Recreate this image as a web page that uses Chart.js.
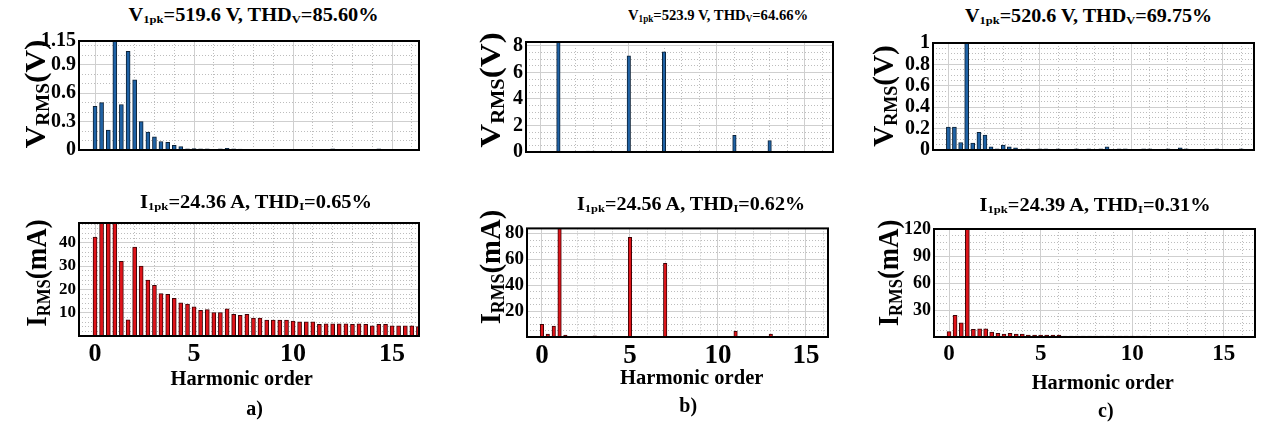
<!DOCTYPE html>
<html><head><meta charset="utf-8">
<script src="https://cdn.jsdelivr.net/npm/chart.js@4.4.1/dist/chart.umd.min.js"></script>
<style>
html,body{margin:0;padding:0;background:#fff;}
body{width:1264px;height:424px;position:relative;overflow:hidden;font-family:"Liberation Serif",serif;}
canvas{position:absolute;}
.t{position:absolute;white-space:nowrap;font-weight:bold;color:#000;line-height:1;transform-origin:50% 50%;z-index:5;}
.t sub{font-size:0.62em;vertical-align:-0.22em;line-height:0;}
</style></head><body>
<script>
// ---------------- data ----------------
const xTickValues = [0, 5, 10, 15];
const harmonicOrders = [0,0.33,0.67,1,1.33,1.67,2,2.33,2.67,3,3.33,3.67,4,4.33,4.67,5,5.33,5.67,6,6.33,6.67,7,7.33,7.67,8,8.33,8.67,9,9.33,9.67,10,10.33,10.67,11,11.33,11.67,12,12.33,12.67,13,13.33,13.67,14,14.33,14.67,15,15.33,15.67,16,16.33];

// panel a) voltage (V rms) and current (mA rms) per harmonic order
const vRmsA = [0.46,0.50,0.21,367.4,0.48,1.04,0.74,0.30,0.19,0.14,0.09,0.08,0.05,0.035,0.012,0.015,0.012,0.012,null,0.012,0.018,0.012,0.01,null,null,null,null,null,null,null,null,null,null,null,null,null,0.012,null,null,null,null,null,null,0.012,null,null,null,null,null,null];
const iRmsA = [42.5,52,50,17225,32,6.9,38.2,30,24,21.8,18.2,17.9,16.2,14.2,13.7,12.5,11,11.3,10.1,10.1,11.7,9.3,8.9,9.3,7.7,7.7,6.8,6.8,6.8,6.8,6.4,6.1,6.1,6.1,5.0,5.2,5.2,5.2,5.2,5.0,5.2,5.0,4.4,5.0,5.0,4.4,4.4,4.4,4.4,4.0];

// panel b)
const ordersVB = [0.67,1,1.33,2.67,3,5,7,11,13];
const vRmsB = [0.05,370.5,0.05,0.06,0.06,7.25,7.55,1.25,0.87];
const ordersIB = [0,0.33,0.67,1,1.33,2,2.67,3,3.33,5,7,11,13];
const iRmsB = [9.8,2.3,8.5,17367,1.5,0.5,0.6,0.9,0.5,77,57,4.4,2.3];

// panel c)
const ordersVC = [0,0.33,0.67,1,1.33,1.67,2,2.33,2.67,3,3.33,3.67,4.33,5,5.33,6,7,7.67,8.33,8.67,9.33,9.67,10.67,11,12,12.67,13,14.67,16];
const vRmsC = [0.215,0.215,0.07,368.1,0.065,0.165,0.14,0.03,0.012,0.045,0.03,0.02,0.01,0.01,0.01,0.01,0.01,0.01,0.01,0.03,0.01,0.01,0.01,0.01,0.01,0.02,0.01,0.01,0.01];
const ordersIC = [0,0.33,0.67,1,1.33,1.67,2,2.33,2.67,3,3.33,3.67,4,4.33,4.67,5,5.33,5.67,6,6.33,6.67,7,7.33,7.67,8,8.33,8.67,9,9.33,9.67,10,10.33,10.67];
const iRmsC = [5.9,24,15.7,17247,8.4,9.2,9.2,5.5,4.0,3.3,4.0,3.3,3.3,2.2,2.2,2.2,2.2,2.2,2.2,1.1,1.1,1.1,1.1,1.1,1.1,1.1,1.1,1.1,1.1,1.1,1.1,1.1,1.1];

// y tick labels
const yTicksAV = [0,0.3,0.6,0.9,1.15];
const yTicksAI = [10,20,30,40];
const yTicksBV = [0,2,4,6,8];
const yTicksBI = [20,40,60,80];
const yTicksCV = [0,0.2,0.4,0.6,0.8,1];
const yTicksCI = [30,60,90,120];

// texts
const titlesV = ['V<sub>1pk</sub>=519.6 V, THD<sub>V</sub>=85.60%','V<sub>1pk</sub>=523.9 V, THD<sub>V</sub>=64.66%','V<sub>1pk</sub>=520.6 V, THD<sub>V</sub>=69.75%'];
const titlesI = ['I<sub>1pk</sub>=24.36 A, THD<sub>I</sub>=0.65%','I<sub>1pk</sub>=24.56 A, THD<sub>I</sub>=0.62%','I<sub>1pk</sub>=24.39 A, THD<sub>I</sub>=0.31%'];
const yTitleV = 'V<sub>RMS</sub>(V)';
const yTitleI = 'I<sub>RMS</sub>(mA)';
const xTitle = 'Harmonic order';
const panelLabels = ['a)','b)','c)'];

// ---------------- styling / layout ----------------
const FONT = 'Liberation Serif';
const BLUE = {fill:'#1f62a5', edge:'#0c2136'};
const RED = {fill:'#e0141a', edge:'#3d0406'};
const YW = 60, PT = 14, PR = 8;

function pts(xs, ys){ const out=[]; xs.forEach((x,i)=>{ if(ys[i]!==null) out.push({x:x,y:ys[i]}); }); return out; }

const framePlugin = {
  id:'frame',
  afterDatasetsDraw(chart){
    const {ctx, chartArea:a} = chart;
    ctx.save(); ctx.strokeStyle='#000'; ctx.lineWidth=2;
    ctx.strokeRect(a.left, a.top, a.right-a.left, a.bottom-a.top);
    ctx.restore();
  }
};

function range(a,b,s){ const r=[]; for(let v=a; v<=b+1e-9; v+=s) r.push(+v.toFixed(4)); return r; }

function makePanel(p){
  const xh = p.bottom ? 40 : 16;
  const W = YW + (p.ca[2]-p.ca[0]) + PR;
  const H = PT + (p.ca[3]-p.ca[1]) + xh;
  const cv = document.createElement('canvas');
  cv.width = W; cv.height = H;
  cv.style.left = (p.ca[0]-YW)+'px'; cv.style.top = (p.ca[1]-PT)+'px';
  cv.style.width = W+'px'; cv.style.height = H+'px';
  document.body.appendChild(cv);
  const minorX = range(0, 16, 1).filter(v=>v%5!==0);
  const minorY = range(p.yMinor, p.yMax, p.yMinor);
  new Chart(cv.getContext('2d'), {
    type:'bar',
    data:{datasets:[{data:p.data, backgroundColor:p.color.fill, borderColor:p.color.edge, borderWidth:1, borderSkipped:'start', barThickness:p.bw, clip:0}]},
    options:{
      responsive:false, animation:false, devicePixelRatio:1,
      layout:{padding:{top:PT,right:PR,left:0,bottom:0}},
      plugins:{legend:{display:false}, tooltip:{enabled:false}},
      scales:{
        x2:{type:'linear', axis:'x', position:'bottom', min:p.xr[0], max:p.xr[1], offset:false,
            grid:{color:'#bdbdbd', lineWidth:1, drawTicks:false, offset:false}, border:{display:false, dash:[1,2]},
            ticks:{display:false}, afterBuildTicks:s=>{s.ticks=minorX.map(v=>({value:v}));}, afterFit:s=>{s.height=0;}},
        y2:{type:'linear', axis:'y', position:'left', min:0, max:p.yMax,
            grid:{color:'#bdbdbd', lineWidth:1, drawTicks:false}, border:{display:false, dash:[1,2]},
            ticks:{display:false}, afterBuildTicks:s=>{s.ticks=minorY.map(v=>({value:v}));}, afterFit:s=>{s.width=0;}},
        x:{type:'linear', min:p.xr[0], max:p.xr[1], offset:false,
           grid:{color:'#cfcfcf', lineWidth:1, drawTicks:false, offset:false}, border:{display:false},
           ticks:{display:p.bottom, color:'#000', padding:3, maxRotation:0, autoSkip:false,
                  font:{family:FONT, size:p.xFont||26, weight:'bold'}, callback:v=>String(v)},
           afterBuildTicks:s=>{s.ticks=xTickValues.map(v=>({value:v}));}, afterFit:s=>{s.height=xh;}},
        y:{type:'linear', min:0, max:p.yMax,
           grid:{color:'#cfcfcf', lineWidth:1, drawTicks:false}, border:{display:false},
           ticks:{color:'#000', padding:3, autoSkip:false, font:{family:FONT, size:p.yFont, weight:'bold'}, callback:v=>String(v)},
           afterBuildTicks:s=>{s.ticks=p.yTicks.map(v=>({value:v}));}, afterFit:s=>{s.width=YW;}}
      }
    },
    plugins:[framePlugin]
  });
}

const panels = [
  {data:pts(harmonicOrders,vRmsA), ca:[79,40,419,150], xr:[-0.81,16.36], yMax:1.15, yMinor:0.1, yTicks:yTicksAV, color:BLUE, bottom:false, yFont:20, bw:4},
  {data:pts(harmonicOrders,iRmsA), ca:[79,223,419,336], xr:[-0.81,16.36], yMax:48.5, yMinor:2, yTicks:yTicksAI, color:RED, bottom:true, yFont:17, xFont:26, bw:4},
  {data:pts(ordersVB,vRmsB), ca:[526,41,833,152], xr:[-0.84,16.6], yMax:8.3, yMinor:0.5, yTicks:yTicksBV, color:BLUE, bottom:false, yFont:20, bw:3.5},
  {data:pts(ordersIB,iRmsB), ca:[527,228,828,337], xr:[-0.85,16.25], yMax:84, yMinor:5, yTicks:yTicksBI, color:RED, bottom:true, yFont:19, xFont:27, bw:3.5},
  {data:pts(ordersVC,vRmsC), ca:[933,42,1254,150], xr:[-0.84,16.7], yMax:1, yMinor:0.05, yTicks:yTicksCV, color:BLUE, bottom:false, yFont:20, bw:4},
  {data:pts(ordersIC,iRmsC), ca:[934,229,1255,337], xr:[-0.82,16.7], yMax:120, yMinor:7.5, yTicks:yTicksCI, color:RED, bottom:true, yFont:18, xFont:23, bw:4}
];
panels.forEach(makePanel);

// ---------------- HTML text ----------------
function addText(html, cx, cy, size, len, rot){
  const el = document.createElement('div');
  el.className = 't';
  el.innerHTML = html;
  el.style.fontSize = size+'px';
  el.style.height = size+'px';
  document.body.appendChild(el);
  const w = el.offsetWidth, h = el.offsetHeight;
  el.style.left = (cx - w/2)+'px';
  el.style.top = (cy - h/2)+'px';
  const s = len ? len/w : 1;
  el.style.transform = (rot ? 'rotate(-90deg) ' : '') + 'scaleX('+s+')';
}
const tV = [[253,14.5,250,18],[718,15.5,180,15],[1088,15.8,247,18]];
const tI = [[256,201.7,232,18],[691,203.5,228,18],[1094.7,205,231,18]];
const yV = [[35,93.8,109],[490,90,116],[883.3,95.8,102]];
const yI = [[36,272.5,108],[489.7,266.7,115],[887.5,273.3,107]];
const xT = [[241,378.3,142],[691.7,376.7,143],[1102.5,381.7,141.7]];
const pL = [[254.7,407.5],[688.3,405],[1106,410]];
for(let i=0;i<3;i++){
  addText(titlesV[i], tV[i][0], tV[i][1], tV[i][3], tV[i][2]);
  addText(titlesI[i], tI[i][0], tI[i][1], tI[i][3], tI[i][2]);
  addText(yTitleV, yV[i][0], yV[i][1], 30, yV[i][2], true);
  addText(yTitleI, yI[i][0], yI[i][1], 30, yI[i][2], true);
  addText(xTitle, xT[i][0], xT[i][1], 20, xT[i][2]);
  addText(panelLabels[i], pL[i][0], pL[i][1], 20, 0);
}
</script>
</body></html>
